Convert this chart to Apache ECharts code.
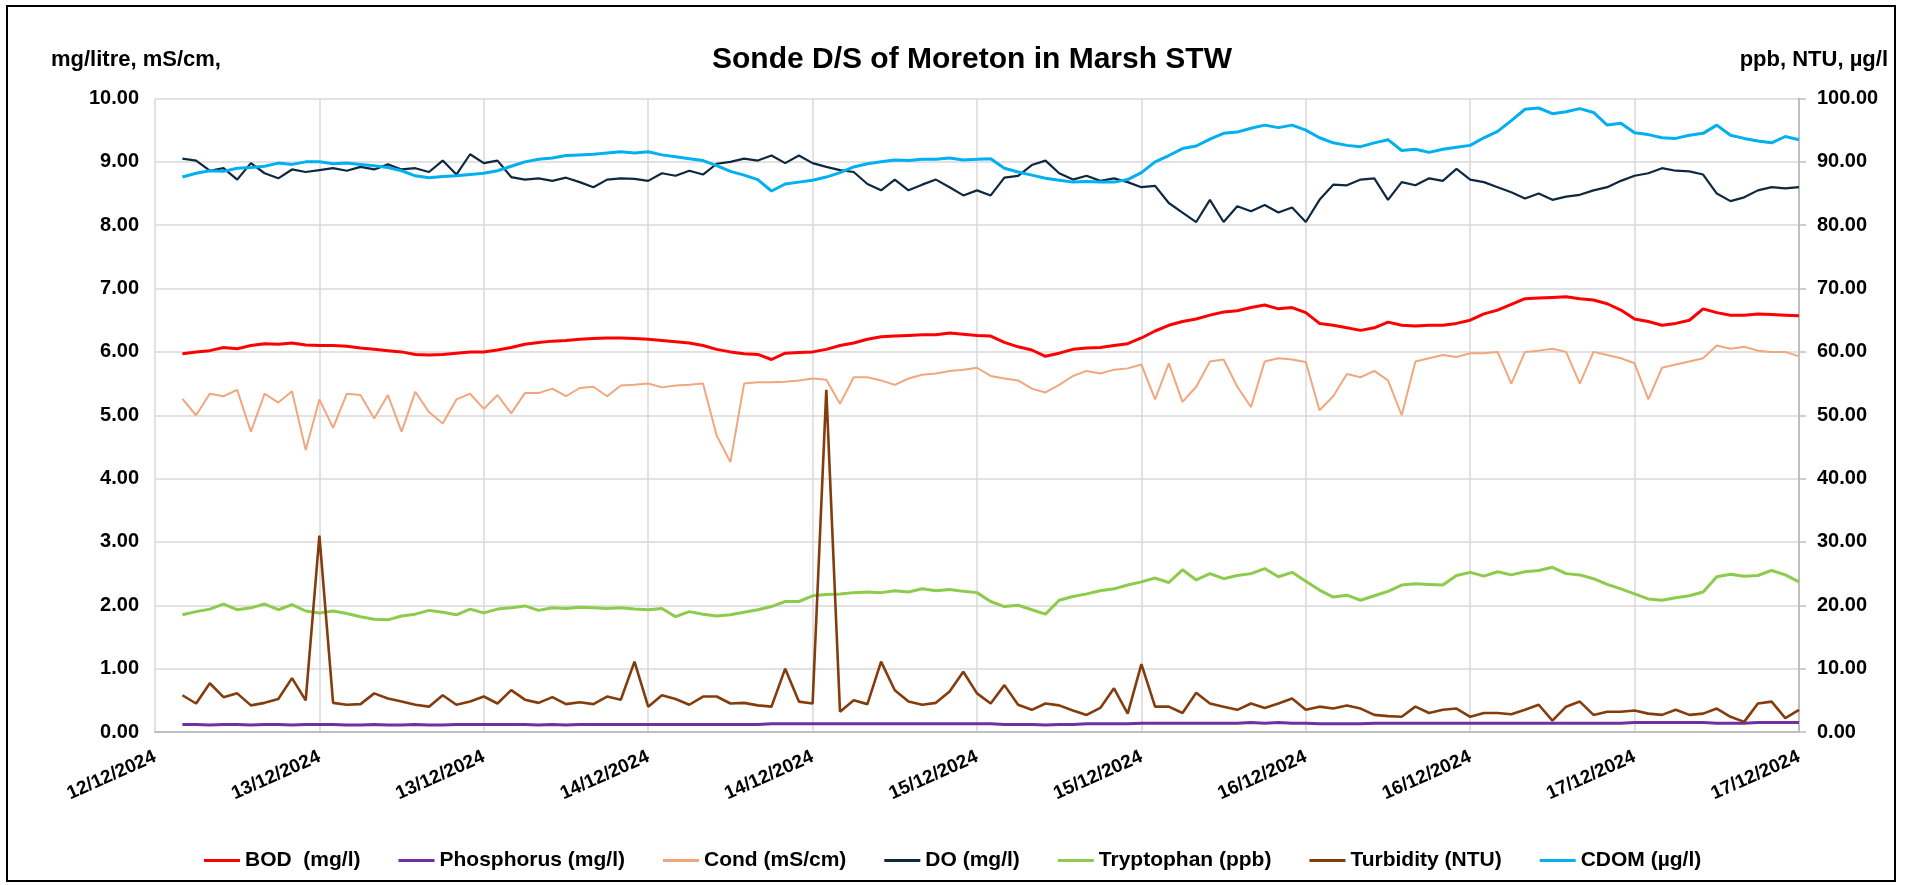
<!DOCTYPE html>
<html>
<head>
<meta charset="utf-8">
<title>Sonde D/S of Moreton in Marsh STW</title>
<script src="https://cdn.jsdelivr.net/npm/echarts@6/dist/echarts.min.js"></script>
<style>
    html, body { margin: 0; padding: 0; background: #fff; }
    #chart { width: 1907px; height: 885px; }
</style>
</head>
<body>
<div id="chart"></div>
<script>
// hours after 12/12/2024 12:00, one reading per hour
var hours = [];
for (var h = 2; h <= 120; h++) hours.push(h);

// tick labels, one every 12 hours
var xLabels = ['12/12/2024', '13/12/2024', '13/12/2024', '14/12/2024', '14/12/2024', '15/12/2024',
    '15/12/2024', '16/12/2024', '16/12/2024', '17/12/2024', '17/12/2024'];

var bod = [5.97, 6.0, 6.02, 6.07, 6.05, 6.1, 6.13, 6.12, 6.14, 6.11,
    6.1, 6.1, 6.09, 6.06, 6.04, 6.02, 6.0, 5.96, 5.95, 5.96, 5.98, 6.0,
    6.0, 6.03, 6.07, 6.12, 6.15, 6.17, 6.18, 6.2, 6.21, 6.22, 6.22, 6.21,
    6.2, 6.18, 6.16, 6.14, 6.1, 6.04, 6.0, 5.97, 5.96, 5.88, 5.98, 5.99,
    6.0, 6.04, 6.1, 6.14, 6.2, 6.24, 6.25, 6.26, 6.27, 6.27, 6.3, 6.28,
    6.26, 6.25, 6.15, 6.08, 6.03, 5.93, 5.98, 6.04, 6.06, 6.07, 6.1, 6.13,
    6.22, 6.33, 6.42, 6.48, 6.52, 6.58, 6.63, 6.65, 6.7, 6.74, 6.68, 6.7,
    6.62, 6.45, 6.42, 6.38, 6.34, 6.38, 6.47, 6.42, 6.41, 6.42, 6.42, 6.45,
    6.5, 6.6, 6.66, 6.75, 6.84, 6.85, 6.86, 6.87, 6.84, 6.82, 6.76, 6.66,
    6.52, 6.48, 6.42, 6.45, 6.5, 6.68, 6.62, 6.58, 6.58, 6.6, 6.59, 6.58,
    6.57];

var phosphorus = [0.12, 0.12, 0.11, 0.12, 0.12, 0.11, 0.12, 0.12, 0.11, 0.12,
    0.12, 0.12, 0.11, 0.11, 0.12, 0.11, 0.11, 0.12, 0.11, 0.11, 0.12, 0.12,
    0.12, 0.12, 0.12, 0.12, 0.11, 0.12, 0.11, 0.12, 0.12, 0.12, 0.12, 0.12,
    0.12, 0.12, 0.12, 0.12, 0.12, 0.12, 0.12, 0.12, 0.12, 0.13, 0.13, 0.13,
    0.13, 0.13, 0.13, 0.13, 0.13, 0.13, 0.13, 0.13, 0.13, 0.13, 0.13, 0.13,
    0.13, 0.13, 0.12, 0.12, 0.12, 0.11, 0.12, 0.12, 0.13, 0.13, 0.13, 0.13,
    0.14, 0.14, 0.14, 0.14, 0.14, 0.14, 0.14, 0.14, 0.15, 0.14, 0.15, 0.14,
    0.14, 0.13, 0.13, 0.13, 0.13, 0.14, 0.14, 0.14, 0.14, 0.14, 0.14, 0.14,
    0.14, 0.14, 0.14, 0.14, 0.14, 0.14, 0.14, 0.14, 0.14, 0.14, 0.14, 0.14,
    0.15, 0.15, 0.15, 0.15, 0.15, 0.15, 0.14, 0.14, 0.14, 0.15, 0.15, 0.15,
    0.15];

var cond = [5.26, 5.0, 5.34, 5.3, 5.4, 4.74, 5.34, 5.2, 5.38, 4.45,
    5.25, 4.8, 5.34, 5.32, 4.95, 5.32, 4.74, 5.37, 5.05, 4.87, 5.25, 5.34,
    5.1, 5.32, 5.03, 5.35, 5.35, 5.42, 5.3, 5.43, 5.45, 5.3, 5.47, 5.48,
    5.5, 5.44, 5.47, 5.48, 5.5, 4.68, 4.26, 5.5, 5.52, 5.52, 5.53, 5.55,
    5.58, 5.56, 5.18, 5.6, 5.6, 5.55, 5.48, 5.58, 5.64, 5.66, 5.7, 5.72,
    5.75, 5.62, 5.58, 5.55, 5.42, 5.36, 5.48, 5.62, 5.7, 5.66, 5.72, 5.74,
    5.8, 5.25, 5.82, 5.21, 5.45, 5.85, 5.88, 5.45, 5.13, 5.85, 5.9, 5.88,
    5.84, 5.08, 5.3, 5.65, 5.6, 5.7, 5.55, 5.0, 5.85, 5.9, 5.95, 5.92,
    5.98, 5.98, 6.0, 5.5, 6.0, 6.02, 6.05, 6.0, 5.5, 6.0, 5.95, 5.9,
    5.82, 5.25, 5.75, 5.8, 5.85, 5.9, 6.1, 6.05, 6.08, 6.02, 6.0, 6.0,
    5.93];

var dissolvedOxygen = [9.05, 9.02, 8.86, 8.9, 8.72, 8.98, 8.82, 8.74, 8.88, 8.84,
    8.87, 8.9, 8.86, 8.92, 8.88, 8.96, 8.88, 8.9, 8.84, 9.02, 8.8, 9.12,
    8.98, 9.02, 8.76, 8.72, 8.74, 8.7, 8.75, 8.68, 8.6, 8.72, 8.74, 8.73,
    8.7, 8.82, 8.78, 8.86, 8.8, 8.97, 9.0, 9.05, 9.02, 9.1, 8.98, 9.1,
    8.98, 8.92, 8.87, 8.84, 8.65, 8.55, 8.72, 8.55, 8.64, 8.72, 8.6, 8.47,
    8.55, 8.47, 8.75, 8.78, 8.95, 9.02, 8.82, 8.72, 8.78, 8.7, 8.74, 8.68,
    8.6, 8.62, 8.35, 8.2, 8.05, 8.4, 8.05, 8.3, 8.22, 8.32, 8.2, 8.28,
    8.05, 8.4, 8.64, 8.63, 8.72, 8.74, 8.4, 8.68, 8.63, 8.74, 8.7, 8.89,
    8.72, 8.68, 8.6, 8.52, 8.42, 8.5, 8.4, 8.45, 8.48, 8.55, 8.6, 8.7,
    8.78, 8.82, 8.9, 8.86, 8.85, 8.8, 8.5, 8.38, 8.44, 8.55, 8.6, 8.58,
    8.6];

var tryptophan = [18.5, 19.0, 19.4, 20.2, 19.3, 19.6, 20.2, 19.3, 20.1, 19.1,
    18.8, 19.1, 18.7, 18.2, 17.8, 17.7, 18.3, 18.6, 19.2, 18.9, 18.5, 19.4,
    18.8, 19.4, 19.6, 19.9, 19.2, 19.6, 19.5, 19.7, 19.6, 19.5, 19.6, 19.4,
    19.3, 19.5, 18.2, 19.0, 18.6, 18.3, 18.5, 18.9, 19.3, 19.8, 20.6, 20.6,
    21.5, 21.7, 21.8, 22.0, 22.1, 22.0, 22.3, 22.1, 22.6, 22.3, 22.5, 22.2,
    22.0, 20.6, 19.8, 20.0, 19.3, 18.6, 20.8, 21.4, 21.8, 22.3, 22.6, 23.2,
    23.7, 24.3, 23.6, 25.6, 24.0, 25.0, 24.2, 24.7, 25.0, 25.8, 24.5, 25.2,
    23.8, 22.4, 21.3, 21.6, 20.8, 21.5, 22.2, 23.2, 23.4, 23.3, 23.2, 24.7,
    25.2, 24.6, 25.3, 24.8, 25.3, 25.5, 26.0, 25.0, 24.8, 24.2, 23.3, 22.6,
    21.8, 21.0, 20.8, 21.2, 21.5, 22.1, 24.5, 24.9, 24.6, 24.7, 25.5, 24.8,
    23.7];

var turbidity = [5.8, 4.5, 7.7, 5.5, 6.1, 4.2, 4.6, 5.2, 8.5, 5.0,
    31.0, 4.6, 4.3, 4.4, 6.1, 5.3, 4.8, 4.3, 4.0, 5.8, 4.3, 4.8,
    5.6, 4.5, 6.6, 5.1, 4.6, 5.5, 4.4, 4.7, 4.4, 5.6, 5.1, 11.1,
    4.0, 5.8, 5.2, 4.3, 5.6, 5.6, 4.5, 4.6, 4.2, 4.0, 10.0, 4.8,
    4.5, 54.0, 3.2, 5.0, 4.4, 11.1, 6.6, 4.8, 4.3, 4.6, 6.4, 9.5,
    6.1, 4.5, 7.4, 4.3, 3.5, 4.5, 4.2, 3.4, 2.7, 3.8, 6.9, 2.9,
    10.7, 4.0, 4.0, 3.0, 6.2, 4.5, 4.0, 3.5, 4.5, 3.8, 4.5, 5.3,
    3.5, 4.0, 3.7, 4.2, 3.7, 2.7, 2.5, 2.4, 4.0, 3.0, 3.5, 3.7,
    2.4, 3.0, 3.0, 2.8, 3.5, 4.3, 1.8, 4.0, 4.8, 2.7, 3.2, 3.2,
    3.4, 2.9, 2.7, 3.5, 2.7, 2.9, 3.7, 2.4, 1.6, 4.5, 4.8, 2.2,
    3.5];

var cdom = [87.6, 88.2, 88.6, 88.5, 89.0, 89.1, 89.3, 89.8, 89.6, 90.0,
    90.0, 89.7, 89.8, 89.6, 89.4, 89.1, 88.6, 87.8, 87.5, 87.7, 87.8, 88.0,
    88.2, 88.6, 89.3, 90.0, 90.4, 90.6, 91.0, 91.1, 91.2, 91.4, 91.6, 91.4,
    91.6, 91.1, 90.8, 90.5, 90.2, 89.4, 88.5, 87.9, 87.2, 85.4, 86.5, 86.8,
    87.1, 87.6, 88.3, 89.2, 89.7, 90.0, 90.3, 90.2, 90.4, 90.4, 90.6, 90.3,
    90.4, 90.5, 89.0, 88.4, 87.9, 87.4, 87.1, 86.8, 86.9, 86.8, 86.8, 87.2,
    88.3, 90.0, 91.0, 92.1, 92.5, 93.6, 94.5, 94.7, 95.3, 95.8, 95.4, 95.8,
    95.0, 93.8, 93.0, 92.6, 92.4, 93.0, 93.5, 91.8, 92.0, 91.5, 92.0, 92.3,
    92.6, 93.8, 94.8, 96.5, 98.3, 98.5, 97.6, 97.9, 98.4, 97.8, 95.8, 96.1,
    94.6, 94.3, 93.8, 93.7, 94.2, 94.5, 95.8, 94.2, 93.7, 93.3, 93.0, 94.0,
    93.5];

var seriesNames = ['BOD  (mg/l)', 'Phosphorus (mg/l)', 'Cond (mS/cm)', 'DO (mg/l)',
    'Tryptophan (ppb)', 'Turbidity (NTU)', 'CDOM (\u00b5g/l)'];
var seriesColors = ['#FF0000', '#7030A0', '#F1A77E', '#0E2841', '#8CCB4C', '#843C0C', '#00B0F0'];
var seriesWidths = [3, 3, 2, 2.2, 3, 2.6, 3];
var seriesAxis = [0, 0, 0, 0, 1, 1, 1];
var seriesValues = [bod, phosphorus, cond, dissolvedOxygen, tryptophan, turbidity, cdom];

var font = '"Liberation Sans", Arial, sans-serif';

function pairs(values) {
    return values.map(function(v, i) { return [hours[i], v]; });
}

var series = seriesNames.map(function(name, i) {
    return {
        name: name,
        type: 'line',
        yAxisIndex: seriesAxis[i],
        data: pairs(seriesValues[i]),
        symbol: 'none',
        showSymbol: false,
        color: seriesColors[i],
        lineStyle: { width: seriesWidths[i], color: seriesColors[i] },
        emphasis: { disabled: true }
    };
});

var myChart = echarts.init(document.getElementById('chart'));
var option = {
    animation: false,
    backgroundColor: '#fff',
    title: [{
        text: 'Sonde D/S of Moreton in Marsh STW',
        left: 707,
        top: 40,
        textStyle: { fontFamily: font, fontSize: 30, fontWeight: 'bold', color: '#000' }
    }, {
        text: 'mg/litre, mS/cm,',
        left: 46,
        top: 44,
        textStyle: { fontFamily: font, fontSize: 22, fontWeight: 'bold', color: '#000' }
    }, {
        text: 'ppb, NTU, \u00b5g/l',
        right: 14,
        top: 44,
        textStyle: { fontFamily: font, fontSize: 22, fontWeight: 'bold', color: '#000' }
    }],
    legend: {
        data: seriesNames,
        left: 199,
        top: 845,
        icon: 'rect',
        itemWidth: 36,
        itemHeight: 3,
        itemGap: 38,
        textStyle: { fontFamily: font, fontSize: 21, fontWeight: 'bold', color: '#000' }
    },
    grid: { left: 155, right: 108, top: 98.5, bottom: 153, containLabel: false },
    xAxis: {
        type: 'value',
        min: 0,
        max: 120,
        interval: 12,
        axisLine: { show: true, lineStyle: { color: '#BFBFBF', width: 2 } },
        axisTick: { show: false },
        splitLine: { show: true, lineStyle: { color: '#D9D9D9', width: 1.5 } },
        axisLabel: {
            rotate: 24,
            margin: 24,
            showMinLabel: true,
            showMaxLabel: true,
            fontFamily: font,
            fontSize: 19,
            fontWeight: 'bold',
            color: '#000',
            formatter: function(v) { return xLabels[Math.round(v / 12)]; }
        }
    },
    yAxis: [{
        type: 'value',
        min: 0,
        max: 10,
        interval: 1,
        axisLine: { show: false },
        axisTick: { show: false },
        splitLine: { show: true, lineStyle: { color: '#D9D9D9', width: 1.5 } },
        axisLabel: {
            margin: 16,
            fontFamily: font,
            fontSize: 20,
            fontWeight: 'bold',
            color: '#000',
            formatter: function(v) { return v.toFixed(2); }
        }
    }, {
        type: 'value',
        min: 0,
        max: 100,
        interval: 10,
        position: 'right',
        axisLine: { show: true, lineStyle: { color: '#BFBFBF', width: 2 } },
        axisTick: { show: true, length: 7, lineStyle: { color: '#BFBFBF', width: 1.5 } },
        splitLine: { show: false },
        axisLabel: {
            margin: 18,
            fontFamily: font,
            fontSize: 20,
            fontWeight: 'bold',
            color: '#000',
            formatter: function(v) { return v.toFixed(2); }
        }
    }],
    graphic: [{
        type: 'rect',
        silent: true,
        shape: { x: 7, y: 6, width: 1888, height: 875 },
        style: { fill: 'none', stroke: '#000', lineWidth: 2 }
    }],
    series: series
};
myChart.setOption(option);
</script>
</body>
</html>
